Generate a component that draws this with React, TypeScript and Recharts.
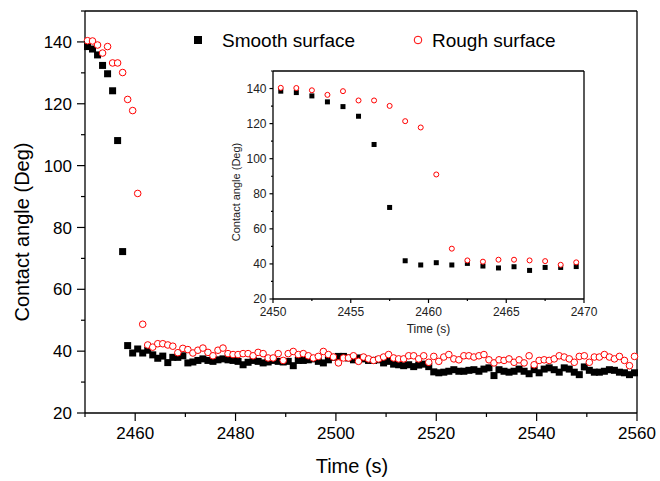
import React from "react";
import { ScatterChart, Scatter, XAxis, YAxis } from "recharts";

// sample times (s)
const times = [
  2450.5, 2451.5, 2452.5, 2453.5, 2454.5, 2455.5, 2456.5, 2457.5, 2458.5, 2459.5,
  2460.5, 2461.5, 2462.5, 2463.5, 2464.5, 2465.5, 2466.5, 2467.5, 2468.5, 2469.5,
  2470.5, 2471.5, 2472.5, 2473.5, 2474.5, 2475.5, 2476.5, 2477.5, 2478.5, 2479.5,
  2480.5, 2481.5, 2482.5, 2483.5, 2484.5, 2485.5, 2486.5, 2487.5, 2488.5, 2489.5,
  2490.5, 2491.5, 2492.5, 2493.5, 2494.5, 2495.5, 2496.5, 2497.5, 2498.5, 2499.5,
  2500.5, 2501.5, 2502.5, 2503.5, 2504.5, 2505.5, 2506.5, 2507.5, 2508.5, 2509.5,
  2510.5, 2511.5, 2512.5, 2513.5, 2514.5, 2515.5, 2516.5, 2517.5, 2518.5, 2519.5,
  2520.5, 2521.5, 2522.5, 2523.5, 2524.5, 2525.5, 2526.5, 2527.5, 2528.5, 2529.5,
  2530.5, 2531.5, 2532.5, 2533.5, 2534.5, 2535.5, 2536.5, 2537.5, 2538.5, 2539.5,
  2540.5, 2541.5, 2542.5, 2543.5, 2544.5, 2545.5, 2546.5, 2547.5, 2548.5, 2549.5,
  2550.5, 2551.5, 2552.5, 2553.5, 2554.5, 2555.5, 2556.5, 2557.5, 2558.5, 2559.5,
];

// contact angle (deg), smooth surface
const smooth = [
  138.5, 137.7, 135.8, 132.4, 129.7, 124.2, 108.1, 72.2, 41.8, 39.4,
  40.7, 39.4, 40.3, 38.8, 37.7, 38.4, 36.3, 38.0, 38.0, 38.5,
  36.2, 36.5, 37.0, 37.5, 37.0, 36.7, 37.2, 37.5, 37.2, 37.0,
  36.7, 35.6, 36.4, 37.0, 36.7, 36.2, 36.5, 37.0, 36.7, 36.5,
  36.7, 35.3, 37.0, 37.0, 37.2, 37.5, 36.7, 36.2, 37.2, 38.0,
  38.3, 38.3, 37.8, 37.2, 37.8, 37.5, 37.0, 37.0, 37.2, 36.2,
  36.7, 35.8, 35.6, 35.3, 35.6, 35.0, 35.5, 35.8, 35.0, 33.3,
  33.0, 33.2, 33.5, 34.0, 33.5, 33.5, 33.8, 34.0, 33.5, 34.2,
  34.6, 32.1, 34.0, 33.5, 33.2, 33.5, 34.2, 33.5, 32.7, 34.0,
  33.0, 34.2, 34.6, 34.0, 33.2, 34.6, 34.2, 33.2, 32.4, 34.9,
  33.8, 33.2, 33.2, 33.5, 34.0, 33.8, 33.2, 33.0, 32.4, 33.0,
];

// contact angle (deg), rough surface
const rough = [
  140.4, 140.3, 139.0, 136.4, 138.5, 133.2, 133.2, 130.1, 121.4, 117.8,
  91.0, 48.7, 42.0, 41.3, 42.4, 42.4, 42.0, 41.6, 39.5, 40.9,
  40.5, 39.4, 40.3, 41.0, 39.6, 38.5, 40.3, 41.0, 39.2, 38.9,
  38.9, 39.2, 39.2, 38.5, 39.6, 39.2, 37.8, 37.8, 39.2, 37.0,
  39.2, 39.9, 38.9, 39.2, 38.5, 37.8, 38.3, 39.9, 38.9, 38.1,
  36.2, 37.8, 37.8, 38.5, 36.7, 38.1, 37.5, 37.0, 37.5, 38.1,
  38.9, 37.8, 37.5, 37.5, 38.5, 38.5, 37.5, 38.5, 36.4, 38.3,
  36.7, 38.1, 38.9, 37.5, 37.2, 38.5, 38.5, 38.1, 38.5, 38.9,
  37.2, 36.2, 37.2, 37.0, 37.5, 36.4, 37.2, 36.2, 38.5, 35.6,
  37.0, 37.2, 37.0, 37.5, 38.5, 38.1, 37.5, 36.4, 38.3, 38.5,
  36.4, 38.1, 38.1, 38.9, 38.1, 37.5, 38.3, 37.0, 35.3, 38.3,
];

const xTicksMain = [2450, 2460, 2470, 2480, 2490, 2500, 2510, 2520, 2530, 2540, 2550, 2560];
const xMajorMain = [2460, 2480, 2500, 2520, 2540, 2560];
const xTicksInset = [2450, 2452.5, 2455, 2457.5, 2460, 2462.5, 2465, 2467.5, 2470];
const xMajorInset = [2450, 2455, 2460, 2465, 2470];
const yTicks = [20, 30, 40, 50, 60, 70, 80, 90, 100, 110, 120, 130, 140, 150];
const yMajor = [20, 40, 60, 80, 100, 120, 140];

const FONT = '"Liberation Sans", Arial, Helvetica, sans-serif';
const RED = "#ff0000";

const smoothPts = times.map((t, i) => ({ t, v: smooth[i] }));
const roughPts = times.map((t, i) => ({ t, v: rough[i] }));
const insetCount = 20;

type Side = "bottom" | "top" | "left" | "right";

// draws tick marks (major/minor) and labels for majors
function makeTick(side: Side, majors: number[], major: number, minor: number, fontSize = 0, gap = 0, color = "#000") {
  return (props: any) => {
    const { x, y, payload } = props;
    const isMajor = majors.includes(payload.value);
    const len = isMajor ? major : minor;
    let line;
    let label = null;
    if (side === "bottom") {
      line = <line x1={x} y1={y} x2={x} y2={y + len} stroke="#000" strokeWidth={1.2} />;
      if (isMajor && fontSize)
        label = (
          <text x={x} y={y + len + gap} dy="0.71em" textAnchor="middle" fontSize={fontSize} fontFamily={FONT} fill={color}>
            {payload.value}
          </text>
        );
    } else if (side === "top") {
      line = <line x1={x} y1={y} x2={x} y2={y + len} stroke="#000" strokeWidth={1.2} />;
    } else if (side === "left") {
      line = <line x1={x} y1={y} x2={x - len} y2={y} stroke="#000" strokeWidth={1.2} />;
      if (isMajor && fontSize)
        label = (
          <text x={x - len - gap} y={y} dy="0.36em" textAnchor="end" fontSize={fontSize} fontFamily={FONT} fill={color}>
            {payload.value}
          </text>
        );
    } else {
      line = <line x1={x} y1={y} x2={x - len} y2={y} stroke="#000" strokeWidth={1.2} />;
    }
    return (
      <g>
        {line}
        {label}
      </g>
    );
  };
}

const square = (size: number) => (p: any) =>
  <rect x={p.cx - size / 2} y={p.cy - size / 2} width={size} height={size} fill="#000" />;

const ring = (r: number) => (p: any) =>
  <circle cx={p.cx} cy={p.cy} r={r} fill="#fff" stroke={RED} strokeWidth={1} />;

const axisLine = { stroke: "#000", strokeWidth: 1.3 };

function MainChart() {
  return (
    <ScatterChart width={660} height={481} margin={{ top: 11, right: 23, bottom: 0, left: 0 }}>
      <XAxis
        xAxisId="b"
        type="number"
        dataKey="t"
        domain={[2450, 2560]}
        ticks={xTicksMain}
        interval={0}
        height={68}
        tickSize={0}
        tickMargin={0}
        tickLine={false}
        axisLine={axisLine}
        tick={makeTick("bottom", xMajorMain, 8, 4, 17, 6)}
        label={(p: any) => (
          <text x={p.viewBox.x + p.viewBox.width / 2 - 9} y={p.viewBox.y + 60} textAnchor="middle" fontSize={20} fontFamily={FONT} fill="#000">
            Time (s)
          </text>
        )}
      />
      <XAxis
        xAxisId="t"
        orientation="top"
        mirror
        type="number"
        domain={[2450, 2560]}
        ticks={xTicksMain}
        interval={0}
        tickSize={0}
        tickMargin={0}
        tickLine={false}
        axisLine={axisLine}
        tick={makeTick("top", xMajorMain, 7, 4)}
      />
      <YAxis
        yAxisId="l"
        type="number"
        dataKey="v"
        domain={[20, 150]}
        ticks={yTicks}
        interval={0}
        width={85}
        tickSize={0}
        tickMargin={0}
        tickLine={false}
        axisLine={axisLine}
        tick={makeTick("left", yMajor, 8, 4, 17, 5)}
        label={(p: any) => {
          const cx = p.viewBox.x + 22;
          const cy = p.viewBox.y + p.viewBox.height / 2 + 20;
          return (
            <text x={cx} y={cy} dy="0.36em" transform={`rotate(-90 ${cx} ${cy})`} textAnchor="middle" fontSize={20} fontFamily={FONT} fill="#000">
              Contact angle (Deg)
            </text>
          );
        }}
      />
      <YAxis
        yAxisId="r"
        orientation="right"
        mirror
        type="number"
        domain={[20, 150]}
        ticks={yTicks}
        interval={0}
        tickSize={0}
        tickMargin={0}
        tickLine={false}
        axisLine={axisLine}
        tick={makeTick("right", yMajor, 7, 4)}
      />
      <Scatter xAxisId="b" yAxisId="l" data={smoothPts} shape={square(7)} isAnimationActive={false} />
      <Scatter xAxisId="b" yAxisId="l" data={roughPts} shape={ring(3.3)} isAnimationActive={false} />
    </ScatterChart>
  );
}

function InsetChart() {
  return (
    <ScatterChart width={400} height={278} margin={{ top: 10, right: 16, bottom: 0, left: 0 }}>
      <XAxis
        xAxisId="b"
        type="number"
        dataKey="t"
        domain={[2450, 2470]}
        ticks={xTicksInset}
        interval={0}
        height={40}
        tickSize={0}
        tickMargin={0}
        tickLine={false}
        axisLine={axisLine}
        tick={makeTick("bottom", xMajorInset, 4, 2, 12, 4, "#222")}
        label={(p: any) => (
          <text x={p.viewBox.x + p.viewBox.width / 2} y={p.viewBox.y + 34} textAnchor="middle" fontSize={12} fontFamily={FONT} fill="#222">
            Time (s)
          </text>
        )}
      />
      <XAxis
        xAxisId="t"
        orientation="top"
        mirror
        type="number"
        domain={[2450, 2470]}
        ticks={xTicksInset}
        interval={0}
        tickSize={0}
        tickMargin={0}
        tickLine={false}
        axisLine={axisLine}
        tick={makeTick("top", xMajorInset, 4, 2)}
      />
      <YAxis
        yAxisId="l"
        type="number"
        dataKey="v"
        domain={[20, 150]}
        ticks={yTicks}
        interval={0}
        width={73}
        tickSize={0}
        tickMargin={0}
        tickLine={false}
        axisLine={axisLine}
        tick={makeTick("left", yMajor, 3.5, 2, 12, 3, "#222")}
        label={(p: any) => {
          const cx = p.viewBox.x + 36;
          const cy = p.viewBox.y + p.viewBox.height / 2 + 7;
          return (
            <text x={cx} y={cy} dy="0.36em" transform={`rotate(-90 ${cx} ${cy})`} textAnchor="middle" fontSize={11} fontFamily={FONT} fill="#222">
              Contact angle (Deg)
            </text>
          );
        }}
      />
      <YAxis
        yAxisId="r"
        orientation="right"
        mirror
        type="number"
        domain={[20, 150]}
        ticks={yTicks}
        interval={0}
        tickSize={0}
        tickMargin={0}
        tickLine={false}
        axisLine={axisLine}
        tick={makeTick("right", yMajor, 4, 2)}
      />
      <Scatter xAxisId="b" yAxisId="l" data={smoothPts.slice(0, insetCount)} shape={square(5)} isAnimationActive={false} />
      <Scatter xAxisId="b" yAxisId="l" data={roughPts.slice(0, insetCount)} shape={ring(2.5)} isAnimationActive={false} />
    </ScatterChart>
  );
}

function LegendBox() {
  return (
    <svg width={660} height={60} style={{ position: "absolute", left: 0, top: 0, pointerEvents: "none" }}>
      <rect x={194} y={36} width={8} height={8} fill="#000" />
      <text x={222} y={47} fontSize={19} fontFamily={FONT} fill="#000">
        Smooth surface
      </text>
      <circle cx={418} cy={40} r={3.8} fill="#fff" stroke={RED} strokeWidth={1} />
      <text x={432} y={47} fontSize={19} fontFamily={FONT} fill="#000">
        Rough surface
      </text>
    </svg>
  );
}

export default function App() {
  return (
    <div style={{ position: "absolute", left: 0, top: 0, width: 660, height: 481, background: "#fff" }}>
      <MainChart />
      <div style={{ position: "absolute", left: 200, top: 61 }}>
        <InsetChart />
      </div>
      <LegendBox />
    </div>
  );
}
